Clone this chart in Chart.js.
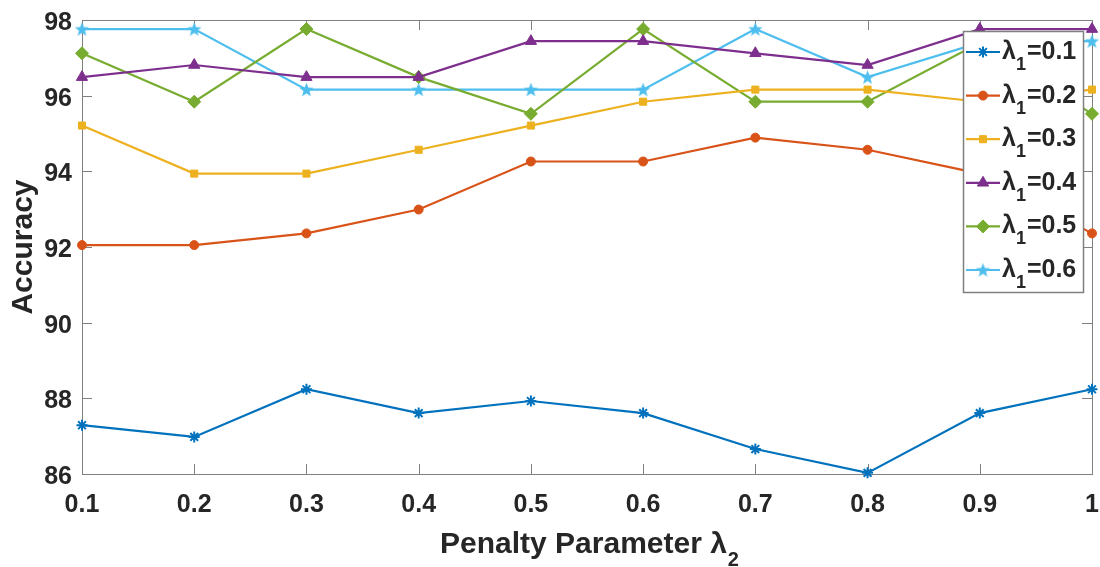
<!DOCTYPE html>
<html>
<head>
<meta charset="utf-8">
<title>Accuracy vs penalty parameter</title>
<script src="https://cdn.jsdelivr.net/npm/chart.js@4.4.1/dist/chart.umd.min.js"></script>
<style>
  html, body { margin: 0; padding: 0; background: #fff; }
  #wrap { width: 1100px; height: 567px; }
</style>
</head>
<body>
<div id="wrap"><canvas id="accChart" width="1100" height="567"></canvas></div>
<script>
// === data ===
const lambda2 = [0.1, 0.2, 0.3, 0.4, 0.5, 0.6, 0.7, 0.8, 0.9, 1.0];
const lambda1Labels = ['0.1', '0.2', '0.3', '0.4', '0.5', '0.6'];
const yTicks = [86, 88, 90, 92, 94, 96, 98];

const acc01 = [87.29, 86.98, 88.24, 87.61, 87.93, 87.61, 86.66, 86.03, 87.61, 88.24];
const acc02 = [92.05, 92.05, 92.36, 92.99, 94.26, 94.26, 94.89, 94.57, 93.94, 92.36];
const acc03 = [95.21, 93.94, 93.94, 94.57, 95.21, 95.84, 96.16, 96.16, 95.84, 96.16];
const acc04 = [96.49, 96.81, 96.49, 96.49, 97.44, 97.44, 97.12, 96.81, 97.76, 97.76];
const acc05 = [97.12, 95.84, 97.76, 96.49, 95.52, 97.76, 95.84, 95.84, 97.40, 95.52];
const acc06 = [97.76, 97.76, 96.16, 96.16, 96.16, 96.16, 97.76, 96.49, 97.40, 97.44];

const FONT = "'Liberation Sans', Arial, Helvetica, sans-serif";
const TEXT = '#262626';
const AXIS = '#808080';

// filled five-point star (pentagram marker)
function pentagram(color, r) {
  const c = document.createElement('canvas');
  const s = Math.ceil(r * 2 + 2);
  c.width = s; c.height = s;
  const g = c.getContext('2d');
  g.beginPath();
  for (let i = 0; i < 10; i++) {
    const rr = i % 2 === 0 ? r : r * 0.42;
    const a = -Math.PI / 2 + i * Math.PI / 5;
    const px = s / 2 + rr * Math.cos(a), py = s / 2 + rr * Math.sin(a) + 0.6;
    if (i === 0) g.moveTo(px, py); else g.lineTo(px, py);
  }
  g.closePath();
  g.fillStyle = color;
  g.fill();
  return c;
}

const series = [
  { values: acc01, color: '#0072BD', style: 'star', radius: 5.5, bw: 2 },
  { values: acc02, color: '#D95319', style: 'circle', radius: 4.5, bw: 1 },
  { values: acc03, color: '#EDB120', style: 'rect', radius: 5, bw: 1 },
  { values: acc04, color: '#7E2F8E', style: 'triangle', radius: 6.5, bw: 1 },
  { values: acc05, color: '#77AC30', style: 'rectRot', radius: 6.5, bw: 1 },
  { values: acc06, color: '#4DBEEE', style: null, radius: 7.5, bw: 1 }
];
series[5].style = pentagram(series[5].color, 7.5);

const datasets = series.map((s, i) => ({
  label: 'λ1=' + lambda1Labels[i],
  data: lambda2.map((x, j) => ({ x, y: s.values[j] })),
  borderColor: s.color,
  backgroundColor: s.color,
  borderWidth: 2.2,
  pointStyle: s.style,
  pointRadius: s.radius,
  pointBorderWidth: s.bw,
  pointBackgroundColor: s.color,
  pointBorderColor: s.color,
  tension: 0,
  clip: false
}));

// box around the axes with inward tick marks on all four sides
const axesBox = {
  id: 'axesBox',
  beforeDatasetsDraw(chart) {
    const { ctx, chartArea: a, scales } = chart;
    const tl = 10;
    ctx.save();
    ctx.strokeStyle = AXIS;
    ctx.lineWidth = 1;
    ctx.beginPath();
    for (const v of lambda2) {
      const x = Math.round(scales.x.getPixelForValue(v)) + 0.5;
      ctx.moveTo(x, a.bottom); ctx.lineTo(x, a.bottom - tl);
      ctx.moveTo(x, a.top); ctx.lineTo(x, a.top + tl);
    }
    for (const v of yTicks) {
      const y = Math.round(scales.y.getPixelForValue(v)) + 0.5;
      ctx.moveTo(a.left, y); ctx.lineTo(a.left + tl, y);
      ctx.moveTo(a.right, y); ctx.lineTo(a.right - tl, y);
    }
    ctx.stroke();
    ctx.strokeRect(Math.round(a.left) + 0.5, Math.round(a.top) + 0.5,
      Math.round(a.right - a.left), Math.round(a.bottom - a.top));
    ctx.restore();
  }
};

// axis titles, with the lowered subscript on lambda
const axisTitles = {
  id: 'axisTitles',
  afterDraw(chart) {
    const { ctx, chartArea: a } = chart;
    ctx.save();
    ctx.fillStyle = TEXT;
    ctx.textBaseline = 'alphabetic';
    ctx.textAlign = 'left';
    const main = 'Penalty Parameter λ', sub = '2';
    ctx.font = 'bold 30px ' + FONT;
    const w1 = ctx.measureText(main).width;
    ctx.font = 'bold 20px ' + FONT;
    const w2 = ctx.measureText(sub).width;
    const x0 = (a.left + a.right) / 2 - (w1 + w2) / 2 + 2;
    ctx.font = 'bold 30px ' + FONT;
    ctx.fillText(main, x0, 553);
    ctx.font = 'bold 20px ' + FONT;
    ctx.fillText(sub, x0 + w1 + 1, 566);

    ctx.translate(32, (a.top + a.bottom) / 2);
    ctx.rotate(-Math.PI / 2);
    ctx.textAlign = 'center';
    ctx.font = 'bold 30px ' + FONT;
    ctx.fillText('Accuracy', 0, 0);
    ctx.restore();
  }
};

// legend box in the upper right corner of the axes
const boxLegend = {
  id: 'boxLegend',
  afterDatasetsDraw(chart) {
    const { ctx } = chart;
    const bx = 963, by = 31, bw = 120, bh = 261;
    ctx.save();
    ctx.fillStyle = '#fff';
    ctx.fillRect(bx, by, bw, bh);
    ctx.strokeStyle = AXIS;
    ctx.lineWidth = 1.5;
    ctx.strokeRect(bx + 0.5, by + 0.5, bw, bh);
    chart.data.datasets.forEach((ds, i) => {
      const cy = 52 + i * 43.6;
      ctx.strokeStyle = ds.borderColor;
      ctx.lineWidth = 2.2;
      ctx.beginPath();
      ctx.moveTo(966, cy); ctx.lineTo(1000, cy);
      ctx.stroke();
      ctx.fillStyle = ds.borderColor;
      ctx.lineWidth = ds.pointBorderWidth;
      Chart.helpers.drawPoint(ctx, {
        pointStyle: ds.pointStyle, radius: ds.pointRadius, rotation: 0,
        borderWidth: ds.pointBorderWidth
      }, 983, cy);

      ctx.fillStyle = TEXT;
      ctx.textAlign = 'left';
      ctx.textBaseline = 'alphabetic';
      ctx.font = 'bold 25px ' + FONT;
      ctx.fillText('λ', 1002, cy + 7);
      const wl = ctx.measureText('λ').width;
      ctx.font = 'bold 18px ' + FONT;
      ctx.fillText('1', 1002 + wl, cy + 18);
      const ws = ctx.measureText('1').width;
      ctx.font = 'bold 25px ' + FONT;
      ctx.fillText('=' + lambda1Labels[i], 1002 + wl + ws + 1, cy + 7);
    });
    ctx.restore();
  }
};

// keep the plot box exactly where the layout padding puts it
function noEdgePadding(s) {
  s.paddingLeft = 0; s.paddingRight = 0; s.paddingTop = 0; s.paddingBottom = 0;
}

new Chart(document.getElementById('accChart'), {
  type: 'line',
  data: { datasets },
  plugins: [axesBox, boxLegend, axisTitles],
  options: {
    responsive: false,
    animation: false,
    events: [],
    layout: { autoPadding: false, padding: { top: 20, right: 8, left: 0, bottom: 0 } },
    plugins: { legend: { display: false }, tooltip: { enabled: false } },
    scales: {
      x: {
        type: 'linear',
        min: 0.1,
        max: 1.0,
        afterBuildTicks: (s) => { s.ticks = lambda2.map(v => ({ value: v })); },
        afterFit: (s) => { s.height = 93; noEdgePadding(s); },
        grid: { display: false, drawTicks: false },
        border: { display: false },
        ticks: {
          color: TEXT,
          padding: 16,
          maxRotation: 0,
          font: { family: FONT, size: 25, weight: 'bold' },
          callback: (v) => (v === 1 ? '1' : Number(v).toFixed(1))
        }
      },
      y: {
        min: 86,
        max: 98,
        afterBuildTicks: (s) => { s.ticks = yTicks.map(v => ({ value: v })); },
        afterFit: (s) => { s.width = 82; noEdgePadding(s); },
        grid: { display: false, drawTicks: false },
        border: { display: false },
        ticks: {
          color: TEXT,
          padding: 10,
          labelOffset: 3,
          font: { family: FONT, size: 25, weight: 'bold' }
        }
      }
    }
  }
});
</script>
</body>
</html>
